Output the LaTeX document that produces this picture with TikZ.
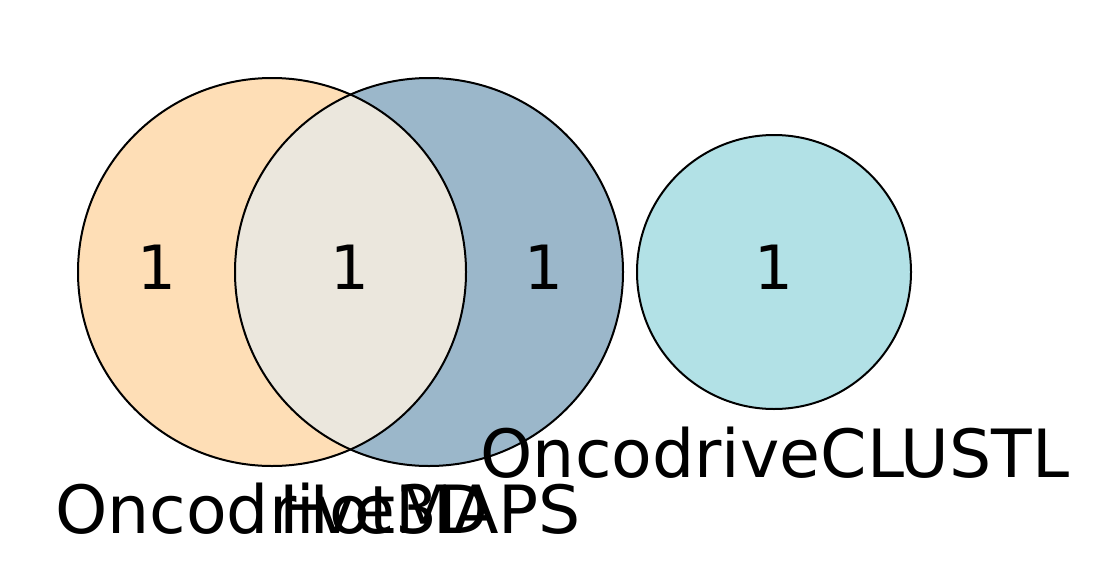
\documentclass[tikz,border=0pt]{standalone}
\usepackage{fontspec}
\setmainfont{DejaVu Sans}
\usepackage{xcolor}
\usepackage{tikz}
\definecolor{setorange}{RGB}{254,222,182}
\definecolor{setblue}{RGB}{155,183,202}
\definecolor{setmix}{RGB}{235,231,221}
\definecolor{setcyan}{RGB}{178,225,230}

\tikzset{
  outline/.style={draw=black,line width=2pt},
  count/.style={inner sep=0pt,anchor=base,font=\fontsize{61}{73}\selectfont},
  setlabel/.style={inner sep=0pt,anchor=base,font=\fontsize{66.5}{80}\selectfont}
}

\begin{document}
\begin{tikzpicture}[x=1pt,y=-1pt]
  \useasboundingbox (0,0) rectangle (1099,578);
  % Set areas
  \fill[setorange] (272,272) circle (194pt);
  \fill[setblue] (429,272) circle (194pt);
  \begin{scope}
    \clip (272,272) circle (194pt);
    \fill[setmix] (429,272) circle (194pt);
  \end{scope}
  \fill[setcyan] (774,272) circle (137pt);
  % Outlines
  \draw[outline] (272,272) circle (194pt);
  \draw[outline] (429,272) circle (194pt);
  \draw[outline] (774,272) circle (137pt);
  % Region counts
  \foreach \x/\name in {157/onlyA,350/AB,544/onlyB,774/onlyC}{
    \node[count] (\name) at (\x,289) {1};
  }
  % Set names
  \node[setlabel] (lblA) at (272,533) {Oncodrive3D};
  \node[setlabel] (lblB) at (430,533) {HotMAPS};
  \node[setlabel] (lblC) at (775,477) {OncodriveCLUSTL};
\end{tikzpicture}
\end{document}
